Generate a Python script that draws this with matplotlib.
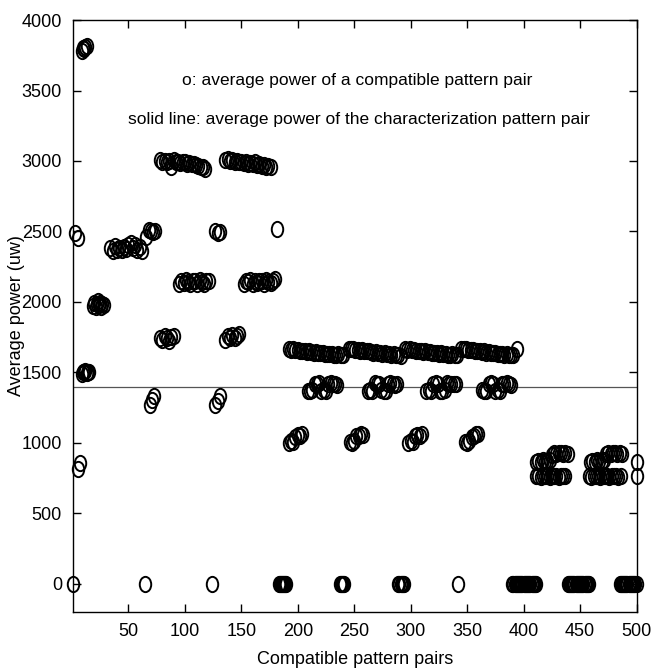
import numpy as np
import matplotlib
matplotlib.use("Agg")
import matplotlib.pyplot as plt
from matplotlib.path import Path
from matplotlib.transforms import Affine2D

# ---------------- data (pair index -> average power in uW) ----------------
zero_single = [1, 65, 124, 342]
zero_runs_start = [183, 237, 289, 390, 439, 485]     # consecutive pair indices with 0 uW
zero_runs_len = [8, 5, 6, 22, 20, 16]

early_idx = [3, 5, 5, 7]
early_pow = [2490, 2450, 810, 855]

p3800 = [3780, 3800, 3795, 3810, 3815]                      # from 9, step 1
p1500 = [1490, 1505, 1500, 1510, 1495, 1505, 1500]          # from 9, step 1
p1980 = [1970, 1990, 1960, 1985, 2005, 1975, 1995, 1965, 1985, 1975]  # from 19, step 1
p2390 = [2380, 2360, 2395, 2370, 2385, 2365, 2390, 2375, 2400, 2420,
         2385, 2405, 2370, 2390, 2360]                       # from 34
p2500a = [2460, 2510, 2500, 2495, 2505]                      # from 66
p1300a = [1270, 1300, 1330]                                  # from 69
p3000a = [3005, 2995, 3000, 2990, 3000, 2960, 3005, 2995, 2990, 2985, 2995,
          2990, 2980, 2985, 2975, 2980, 2970, 2965, 2960, 2955, 2940]  # from 78
p1740a = [1745, 1730, 1760, 1740, 1725, 1750, 1760]          # from 78
p2150a = [2130, 2150, 2135, 2155, 2140, 2130, 2150, 2145, 2130, 2155,
          2140, 2130, 2150, 2145]                            # from 95
p2500b = [2505, 2490, 2495]                                  # from 127
p1300b = [1265, 1295, 1330]                                  # from 127
p3000b = [3005, 3015, 3000, 3010, 2995, 3000, 2990, 2995, 2985, 2990, 2980,
          2985, 2975, 2990, 2970, 2975, 2965, 2970, 2960, 2965, 2955]  # from 136
p1740b = [1730, 1760, 1740, 1765, 1745, 1755, 1770]          # from 136
p2150b = [2130, 2150, 2140, 2155, 2130, 2145, 2135, 2150, 2145, 2130,
          2155, 2140, 2135, 2150, 2160]                      # from 152
p2510 = [2515]                                               # at 182

band_t1 = [1665, 1660, 1662, 1655, 1658, 1650, 1652, 1648, 1645, 1650, 1642, 1640,
           1645, 1638, 1635, 1640, 1632, 1630, 1628, 1632, 1625, 1622, 1628, 1620, 1625]  # from 192
band_t2 = [1668, 1662, 1665, 1658, 1660, 1652, 1655, 1650, 1648, 1652, 1645, 1640,
           1643, 1638, 1640, 1632, 1635, 1628, 1630, 1625, 1628, 1620, 1622, 1618]  # from 245
band_t3 = [1665, 1660, 1668, 1655, 1658, 1650, 1654, 1648, 1645, 1650, 1642, 1645,
           1638, 1640, 1635, 1630, 1636, 1628, 1632, 1625, 1622, 1628, 1620, 1625]  # from 295
band_t4 = [1668, 1662, 1665, 1660, 1655, 1658, 1650, 1652, 1648, 1645, 1650, 1640,
           1645, 1638, 1635, 1640, 1630, 1632, 1628, 1625, 1630, 1622, 1620, 1625]  # from 345
band_end = [1665]                                            # at 394

p1400_1 = [1370, 1365, 1375, 1420, 1415, 1425, 1370, 1375, 1365, 1420, 1425, 1415, 1420, 1410]  # from 209
p1400_2 = [1365, 1375, 1370, 1425, 1415, 1420, 1375, 1365, 1370, 1415, 1425, 1420, 1410, 1420]  # from 262
p1400_3 = [1370, 1375, 1365, 1420, 1425, 1415, 1370, 1365, 1375, 1425, 1420, 1415, 1420, 1415]  # from 314
p1400_4 = [1375, 1365, 1370, 1415, 1425, 1420, 1365, 1375, 1370, 1420, 1415, 1425, 1420, 1410]  # from 363

p1000_1 = [1000, 1010, 1005, 1040, 1055, 1050, 1060]         # from 192
p1000_2 = [1005, 1000, 1015, 1045, 1050, 1060, 1055]         # from 246
p1000_3 = [1000, 1010, 1005, 1045, 1055, 1050, 1065]         # from 298
p1000_4 = [1005, 1000, 1015, 1040, 1050, 1060, 1065]         # from 348

p870_1 = [865, 870, 860, 875, 868, 872, 880, 915, 925, 920, 930, 925, 920, 928, 922]   # from 411
p760_1 = [760, 765, 758, 762, 760, 765, 758, 762, 760, 764, 758, 762, 760, 762]        # from 411
p870_2 = [862, 870, 865, 875, 868, 872, 878, 920, 928, 922, 930, 925, 918, 926, 922]   # from 459
p760_2 = [762, 758, 765, 760, 762, 758, 764, 760, 762, 758, 765, 760, 762, 758, 760]   # from 458
end_idx = [500, 500]
end_pow = [860, 760]

char_power = 1395          # average power of characterization pattern pair

x_ticks = [50, 100, 150, 200, 250, 300, 350, 400, 450, 500]
y_ticks = [0, 500, 1000, 1500, 2000, 2500, 3000, 3500, 4000]


def run(first, values, step=2):
    return list(range(first, first + step * len(values), step)), list(values)


groups = [(zero_single, [0] * len(zero_single))]
for s0, n in zip(zero_runs_start, zero_runs_len):
    groups.append(run(s0, [0] * n, 1))
groups += [
    (early_idx, early_pow),
    run(9, p3800, 1), run(9, p1500, 1), run(19, p1980, 1),
    run(34, p2390), run(66, p2500a), run(69, p1300a),
    run(78, p3000a), run(78, p1740a), run(95, p2150a),
    run(127, p2500b), run(127, p1300b),
    run(136, p3000b), run(136, p1740b), run(152, p2150b), run(182, p2510),
    run(192, band_t1), run(245, band_t2), run(295, band_t3), run(345, band_t4),
    run(394, band_end),
    run(209, p1400_1), run(262, p1400_2), run(314, p1400_3), run(363, p1400_4),
    run(192, p1000_1), run(246, p1000_2), run(298, p1000_3), run(348, p1000_4),
    run(411, p870_1), run(411, p760_1), run(459, p870_2), run(458, p760_2),
    (end_idx, end_pow),
]
xs = np.concatenate([np.asarray(g[0], float) for g in groups])
ys = np.concatenate([np.asarray(g[1], float) for g in groups])

# ---------------- figure ----------------
plt.rcParams['font.family'] = ['Liberation Sans', 'DejaVu Sans']
fig = plt.figure(figsize=(6.55, 6.70), dpi=100)
ax = fig.add_axes([0.1115, 0.087, 0.8603, 0.883])

ellipse = Path.unit_circle().transformed(Affine2D().scale(0.75, 1.0))
ax.plot(xs, ys, linestyle='none', marker=ellipse, markersize=11,
        markerfacecolor='none', markeredgecolor='black', markeredgewidth=1.4,
        clip_on=False, zorder=3)

ax.axhline(char_power, color='#555555', linewidth=0.9, zorder=2)

ax.set_xlim(1, 500)
ax.set_ylim(-200, 4000)
ax.set_xticks(x_ticks)
ax.set_yticks(y_ticks)
ax.tick_params(direction='in', length=6, width=1.0, top=True, right=True,
               labelsize=13, pad=8)
for s in ax.spines.values():
    s.set_linewidth(1.0)

ax.set_xlabel('Compatible pattern pairs', fontsize=13, labelpad=8)
ax.set_ylabel('Average power (uw)', fontsize=13)
ax.yaxis.set_label_coords(-0.085, 0.5)

ax.text(253, 3574, 'o: average power of a compatible pattern pair',
        ha='center', va='center', fontsize=12.5)
ax.text(254, 3297, 'solid line: average power of the characterization pattern pair',
        ha='center', va='center', fontsize=12.5)

fig.savefig('out.png', dpi=100)
